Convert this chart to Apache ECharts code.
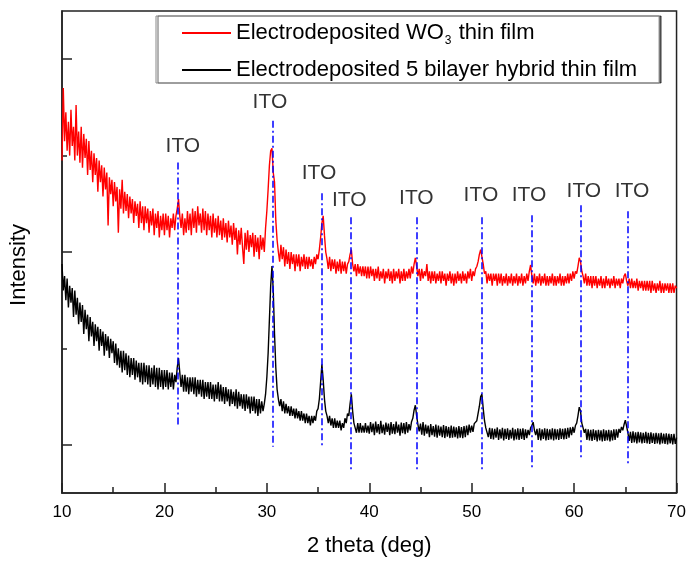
<!DOCTYPE html>
<html>
<head>
<meta charset="utf-8">
<script src="https://cdn.jsdelivr.net/npm/echarts@6/dist/echarts.min.js"></script>
<style>
html,body{margin:0;padding:0;background:#fff;}
#chart{width:689px;height:562px;}
</style>
</head>
<body>
<div id="chart"></div>
<script>
// Scan grid: 2-theta from 10 to 70 deg, 0.125 deg step
const scanStart = 10;
const scanStep = 0.125;

// Electrodeposited WO3 thin film (a.u.), one row per 5 deg
const wo3Film = [
 6900,8400,7300,7900,7100,7700,7000,7950,7200,7600,6900,8050,7000,7500,6850,7600,6750,7450,6950,7350,
 6600,7300,6700,7100,6450,7050,6600,6950,6250,6900,6450,6800,6150,6750,6300,6650,5550,6550,6200,6500,
 5950,6450,6050,6350,5400,6300,5900,6500,5800,6250,5850,6200,5700,6150,5800,6100,5600,6050,5750,6000,
 5500,6050,5600,5950,5450,5950,5600,5900,5400,5850,5550,5900,5350,5800,5500,5850,5300,5750,5450,5800,
 5350,5800,5450,5750,5300,5700,5500,5800,5450,5750,5900,6100,5750,5500,5800,5350,5700,5400,5850,5450,
 5800,5350,5900,5500,5850,5400,5950,5550,5800,5400,5900,5450,5850,5350,5800,5450,5750,5300,5800,5400,
 5700,5300,5750,5350,5650,5250,5700,5300,5600,5200,5650,5300,5550,5150,5600,5250,5500,4950,5450,5150,
 5500,5100,4750,5400,5050,5450,5000,5350,5100,5400,4900,5350,5000,5300,4850,5350,5050,5300,5000,5500,
 5850,6300,6800,7100,7150,6650,6450,5650,5250,5000,4800,5150,4850,5100,4700,5050,4750,5000,4650,5000,
 4750,4950,4600,4950,4700,4950,4600,4900,4700,4950,4650,4900,4650,4900,4700,4850,4650,4900,4750,4950,
 4850,5050,5300,5600,5750,5350,5000,4850,4650,4900,4600,4850,4650,4850,4550,4800,4600,4850,4550,4800,
 4600,4800,4550,4750,4800,4950,5050,4750,4600,4750,4500,4750,4550,4700,4500,4700,4500,4700,4450,4700,
 4450,4700,4500,4650,4400,4650,4450,4700,4400,4600,4450,4650,4350,4600,4450,4650,4400,4600,4350,4650,
 4400,4600,4450,4650,4350,4600,4400,4650,4400,4600,4450,4650,4450,4700,4550,4750,4880,4700,4500,4650,
 4400,4650,4450,4600,4500,4750,4400,4600,4350,4600,4400,4600,4350,4550,4400,4600,4350,4600,4400,4550,
 4300,4550,4400,4600,4350,4550,4300,4550,4350,4600,4400,4550,4350,4600,4400,4550,4350,4600,4450,4650,
 4400,4600,4500,4650,4700,4800,4950,5050,4900,4750,4550,4600,4350,4550,4400,4550,4300,4550,4400,4550,
 4300,4550,4350,4550,4300,4500,4350,4550,4300,4500,4350,4550,4300,4500,4350,4550,4300,4500,4350,4550,
 4300,4500,4350,4550,4400,4600,4730,4500,4350,4550,4300,4500,4350,4550,4300,4500,4350,4550,4300,4500,
 4300,4500,4350,4550,4300,4500,4300,4500,4350,4550,4300,4500,4300,4500,4350,4550,4350,4550,4400,4600,
 4450,4600,4550,4700,4880,4800,4600,4500,4350,4550,4300,4500,4300,4500,4250,4500,4300,4500,4250,4450,
 4300,4500,4250,4450,4250,4500,4300,4450,4250,4450,4300,4500,4250,4450,4300,4450,4250,4450,4350,4500,
 4550,4400,4300,4450,4250,4450,4250,4400,4250,4450,4200,4400,4250,4400,4200,4400,4200,4400,4200,4400,
 4150,4400,4200,4350,4150,4350,4200,4400,4150,4350,4150,4350,4200,4350,4150,4350,4150,4350,4150,4300,4250
];

// Electrodeposited 5 bilayer hybrid thin film (a.u.), one row per 5 deg
const hybridFilm = [
 4750,4200,4500,4000,4450,3850,4300,3950,4250,3650,4200,3700,4050,3500,3950,3550,3900,3300,3800,3400,
 3700,3150,3650,3250,3550,3050,3500,3150,3450,2950,3400,3050,3350,2850,3300,2950,3250,2800,3200,2900,
 3150,2700,3100,2650,3000,2600,2950,2500,2950,2550,2900,2450,2850,2400,2800,2450,2800,2350,2750,2400,
 2700,2300,2700,2250,2700,2300,2650,2250,2650,2200,2600,2250,2650,2200,2600,2150,2600,2200,2550,2150,
 2550,2200,2550,2150,2500,2200,2500,2150,2450,2300,2600,2800,2500,2200,2450,2100,2450,2100,2400,2050,
 2400,2100,2400,2050,2400,2000,2350,2050,2350,2000,2350,1950,2300,2000,2300,1950,2300,1950,2250,1900,
 2250,1950,2300,1900,2250,1900,2200,1850,2200,1900,2150,1800,2150,1850,2100,1800,2150,1750,2100,1800,
 2050,1750,2050,1700,2050,1750,2000,1650,2000,1700,2000,1650,1950,1600,1950,1650,1900,1700,1850,2050,
 2400,2900,3600,4300,4710,4200,3300,2600,2150,1950,1800,1950,1700,1900,1650,1850,1650,1800,1600,1800,
 1600,1750,1550,1750,1550,1700,1500,1700,1500,1650,1450,1650,1450,1600,1400,1600,1450,1600,1500,1700,
 1750,1950,2300,2670,2350,1950,1700,1600,1450,1600,1400,1550,1350,1550,1350,1500,1350,1500,1300,1450,
 1350,1550,1450,1650,1600,1850,2050,1700,1450,1350,1250,1450,1250,1450,1250,1400,1250,1450,1250,1400,
 1230,1470,1260,1440,1200,1480,1250,1430,1220,1500,1240,1420,1210,1460,1270,1440,1200,1470,1230,1430,
 1220,1480,1250,1420,1190,1460,1240,1450,1220,1470,1250,1430,1300,1480,1550,1720,1820,1600,1420,1280,
 1440,1210,1470,1190,1420,1230,1400,1160,1430,1200,1390,1170,1420,1150,1400,1190,1380,1160,1410,1140,
 1390,1170,1370,1140,1400,1150,1380,1160,1360,1130,1390,1150,1370,1140,1390,1160,1400,1200,1420,1250,
 1400,1270,1440,1400,1500,1650,1800,2000,2050,1750,1500,1350,1320,1160,1350,1120,1340,1110,1330,1150,
 1360,1100,1320,1130,1350,1090,1330,1120,1340,1100,1310,1130,1350,1090,1320,1110,1340,1100,1330,1120,
 1340,1100,1320,1140,1310,1200,1350,1400,1470,1300,1200,1330,1100,1340,1090,1320,1120,1340,1090,1330,
 1100,1320,1110,1340,1090,1330,1110,1320,1100,1340,1120,1330,1110,1340,1120,1350,1150,1360,1200,1370,
 1250,1400,1450,1600,1780,1700,1450,1350,1250,1330,1100,1320,1090,1310,1080,1320,1100,1300,1070,1310,
 1090,1300,1070,1320,1080,1300,1090,1310,1070,1300,1090,1320,1100,1320,1150,1330,1250,1370,1300,1420,
 1510,1380,1250,1080,1270,1040,1280,1050,1260,1030,1270,1050,1260,1030,1250,1040,1270,1030,1250,1020,
 1260,1040,1240,1020,1250,1030,1240,1010,1250,1030,1230,1020,1240,1010,1230,1030,1220,1010,1230,1020,1150
];

// ITO reference lines
const itoX      = [21.3, 30.6, 35.4, 38.2, 44.6, 50.96, 55.9, 60.6, 65.2];
const itoTop    = [6856, 7722, 6217, 5722, 5722, 5722, 5763, 5970, 5846];
const itoBottom = [1412,  959,  979,  485,  485,  485,  526,  732,  588];
const itoLabelX = [21.8, 30.3, 35.1, 38.05, 44.6, 50.9, 55.6, 60.95, 65.65];
const itoLabelY = [7200, 8110, 6630, 6070, 6110, 6170, 6170, 6260, 6260];
const itoText = 'ITO';

const seriesNames = ['Electrodeposited WO3 thin film', 'Electrodeposited 5 bilayer hybrid thin film'];
const xTicks = [10, 20, 30, 40, 50, 60, 70];
const yMajorTicks = [1000, 5000, 9000];
const yMinorTicks = [3000, 7000];

function toPairs(vals) {
  return vals.map((v, i) => [scanStart + i * scanStep, v]);
}

const FONT = '"Liberation Sans", Arial, sans-serif';
const axisColor = '#222';

const chart = echarts.init(document.getElementById('chart'), null, {renderer: 'canvas'});
chart.setOption({
  animation: false,
  backgroundColor: '#fff',
  grid: {left: 62, right: 10, top: 11, bottom: 65, show: true, borderColor: axisColor, borderWidth: 1.5, backgroundColor: 'transparent'},
  legend: {
    data: seriesNames,
    orient: 'vertical',
    left: 156, top: 16,
    padding: [4, 22, 0, 26],
    itemGap: 10,
    itemWidth: 49, itemHeight: 2,
    icon: 'rect',
    borderColor: '#888', borderWidth: 1,
    backgroundColor: '#fff',
    shadowColor: 'rgba(0,0,0,0.6)', shadowOffsetX: 2, shadowOffsetY: 0, shadowBlur: 0,
    selectedMode: false,
    textStyle: {
      fontFamily: FONT, fontSize: 22, color: '#000', lineHeight: 26,
      rich: {
        a: {fontFamily: FONT, fontSize: 22, color: '#000', lineHeight: 26},
        s: {fontFamily: FONT, fontSize: 12, color: '#000', padding: [16, 1, 0, 1]}
      }
    },
    formatter: function (name) {
      if (name === seriesNames[0]) return '{a|Electrodeposited WO}{s|3}{a| thin film}';
      return '{a|' + name + '}';
    }
  },
  xAxis: {
    type: 'value', min: xTicks[0], max: xTicks[xTicks.length - 1], interval: 10,
    name: '2 theta (deg)', nameLocation: 'middle', nameGap: 42,
    nameTextStyle: {fontFamily: FONT, fontSize: 22, color: '#000'},
    axisLine: {show: true, lineStyle: {color: axisColor, width: 1.5}},
    axisTick: {show: true, inside: true, length: 10, lineStyle: {color: axisColor, width: 1.5}},
    minorTick: {show: true, splitNumber: 2, length: 6, lineStyle: {color: axisColor, width: 1.5}},
    axisLabel: {fontFamily: FONT, fontSize: 17, color: '#000', margin: 11},
    splitLine: {show: false}
  },
  yAxis: [{
    type: 'value', min: 0, max: 10000,
    name: 'Intensity', nameLocation: 'middle', nameGap: 32, nameRotate: 90,
    nameTextStyle: {fontFamily: FONT, fontSize: 22, color: '#000', padding: [0, 26, 0, 0]},
    axisLine: {show: true, lineStyle: {color: axisColor, width: 1.5}},
    axisTick: {show: true, inside: true, length: 10, customValues: yMajorTicks, lineStyle: {color: axisColor, width: 1.5}},
    axisLabel: {show: false},
    splitLine: {show: false}
  }, {
    type: 'value', min: 0, max: 10000, position: 'left',
    axisLine: {show: false},
    axisTick: {show: true, inside: true, length: 5, customValues: yMinorTicks, lineStyle: {color: axisColor, width: 1.5}},
    axisLabel: {show: false},
    splitLine: {show: false}
  }],
  series: [{
    name: seriesNames[0], type: 'line', data: toPairs(wo3Film),
    symbol: 'none', sampling: 'none', color: '#ff0000',
    lineStyle: {color: '#ff0000', width: 1.4}, z: 2
  }, {
    name: seriesNames[1], type: 'line', data: toPairs(hybridFilm),
    symbol: 'none', sampling: 'none', color: '#000000',
    lineStyle: {color: '#000000', width: 1.4}, z: 3
  }, {
    name: 'ITO', type: 'scatter', symbolSize: 0, z: 5,
    data: itoLabelX.map((x, i) => [x, itoLabelY[i]]),
    label: {show: true, position: 'inside', formatter: itoText, fontFamily: FONT, fontSize: 21, color: '#000', textBorderWidth: 0},
    markLine: {
      silent: true, symbol: ['none', 'none'], z: 6,
      label: {show: false},
      lineStyle: {color: '#0000ff', width: 1.5, type: [7, 3, 2, 3]},
      data: itoX.map((x, i) => [{coord: [x, itoTop[i]]}, {coord: [x, itoBottom[i]]}])
    }
  }]
});
</script>
</body>
</html>
